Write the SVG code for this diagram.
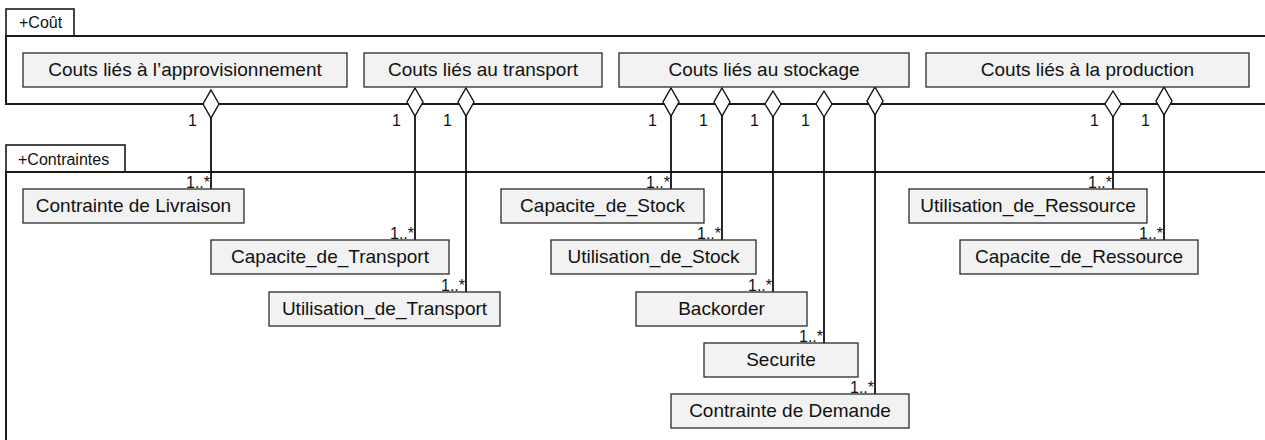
<svg xmlns="http://www.w3.org/2000/svg" width="1265" height="440" viewBox="0 0 1265 440">
<style>
text{font-family:"Liberation Sans",Arial,sans-serif;fill:#111}
.frame{fill:none;stroke:#1a1a1a;stroke-width:2}
.tab{fill:#fff;stroke:#1a1a1a;stroke-width:1.6}
.tabt{font-size:16px}
.box{fill:#f2f2f2;stroke:#2a2a2a;stroke-width:1.3}
.bt{font-size:19px;text-anchor:middle}
.m{font-size:16px}
.me{font-size:16px;text-anchor:end}
.ln{stroke:#111;stroke-width:1.8;fill:none}
.dia{fill:#fff;stroke:#111;stroke-width:1.4}
</style>
<rect width="1265" height="440" fill="#fff"/>
<g id="pkg-cout">
<rect class="tab" x="6" y="9" width="68" height="27"/>
<text class="tabt" x="19" y="28">+Coût</text>
<path class="frame" d="M1275,36 H6 V104 H1275"/>
</g>
<g id="pkg-contraintes">
<rect class="tab" x="6" y="145" width="119" height="27"/>
<text class="tabt" x="18" y="165">+Contraintes</text>
<path class="frame" d="M1275,172 H6 V450"/>
</g>
<g id="connectors">
<path class="ln" d="M211,118 V189 M415,116 V240 M466,116 V292 M671,116 V189 M722,116 V240 M773,117 V292 M824,117 V343 M875,115 V394 M1113,117 V189 M1164,115 V240"/>
<polygon class="dia" points="211,90 219,104 211,118 203,104"/>
<polygon class="dia" points="415,88 423,102 415,116 407,102"/>
<polygon class="dia" points="466,88 474,102 466,116 458,102"/>
<polygon class="dia" points="671,88 679,102 671,116 663,102"/>
<polygon class="dia" points="722,88 730,102 722,116 714,102"/>
<polygon class="dia" points="773,91 781,104 773,117 765,104"/>
<polygon class="dia" points="824,91 832,104 824,117 816,104"/>
<polygon class="dia" points="875,87 883,101 875,115 867,101"/>
<polygon class="dia" points="1113,91 1121,104 1113,117 1105,104"/>
<polygon class="dia" points="1164,87 1172,101 1164,115 1156,101"/>
<text class="m" x="188" y="126">1</text>
<text class="m" x="392" y="126">1</text>
<text class="m" x="443" y="126">1</text>
<text class="m" x="648" y="126">1</text>
<text class="m" x="699" y="126">1</text>
<text class="m" x="750" y="126">1</text>
<text class="m" x="801" y="126">1</text>
<text class="m" x="1090" y="126">1</text>
<text class="m" x="1141" y="126">1</text>
<text class="me" x="210" y="188">1..*</text>
<text class="me" x="414" y="239">1..*</text>
<text class="me" x="465" y="291">1..*</text>
<text class="me" x="670" y="188">1..*</text>
<text class="me" x="721" y="239">1..*</text>
<text class="me" x="772" y="291">1..*</text>
<text class="me" x="823" y="342">1..*</text>
<text class="me" x="874" y="393">1..*</text>
<text class="me" x="1112" y="188">1..*</text>
<text class="me" x="1163" y="239">1..*</text>
</g>
<g id="n-approv"><rect class="box" x="23" y="53" width="324" height="34"/><text class="bt" x="185" y="76">Couts liés à l’approvisionnement</text></g>
<g id="n-transport"><rect class="box" x="364" y="53" width="238" height="34"/><text class="bt" x="483" y="76">Couts liés au transport</text></g>
<g id="n-stockage"><rect class="box" x="619" y="53" width="290" height="34"/><text class="bt" x="764" y="76">Couts liés au stockage</text></g>
<g id="n-production"><rect class="box" x="926" y="53" width="323" height="34"/><text class="bt" x="1087.5" y="76">Couts liés à la production</text></g>
<g id="n-livraison"><rect class="box" x="23" y="189" width="221" height="34"/><text class="bt" x="133.5" y="212">Contrainte de Livraison</text></g>
<g id="n-cap-transport"><rect class="box" x="211" y="240" width="238" height="34"/><text class="bt" x="330" y="263">Capacite_de_Transport</text></g>
<g id="n-util-transport"><rect class="box" x="269" y="292" width="231" height="34"/><text class="bt" x="384.5" y="315">Utilisation_de_Transport</text></g>
<g id="n-cap-stock"><rect class="box" x="501" y="189" width="203" height="34"/><text class="bt" x="602.5" y="212">Capacite_de_Stock</text></g>
<g id="n-util-stock"><rect class="box" x="551" y="240" width="205" height="34"/><text class="bt" x="653.5" y="263">Utilisation_de_Stock</text></g>
<g id="n-backorder"><rect class="box" x="636" y="292" width="171" height="34"/><text class="bt" x="721.5" y="315">Backorder</text></g>
<g id="n-securite"><rect class="box" x="704" y="343" width="154" height="34"/><text class="bt" x="781" y="366">Securite</text></g>
<g id="n-demande"><rect class="box" x="671" y="394" width="238" height="34"/><text class="bt" x="790" y="417">Contrainte de Demande</text></g>
<g id="n-util-ressource"><rect class="box" x="909" y="189" width="238" height="34"/><text class="bt" x="1028" y="212">Utilisation_de_Ressource</text></g>
<g id="n-cap-ressource"><rect class="box" x="960" y="240" width="238" height="34"/><text class="bt" x="1079" y="263">Capacite_de_Ressource</text></g>
</svg>
